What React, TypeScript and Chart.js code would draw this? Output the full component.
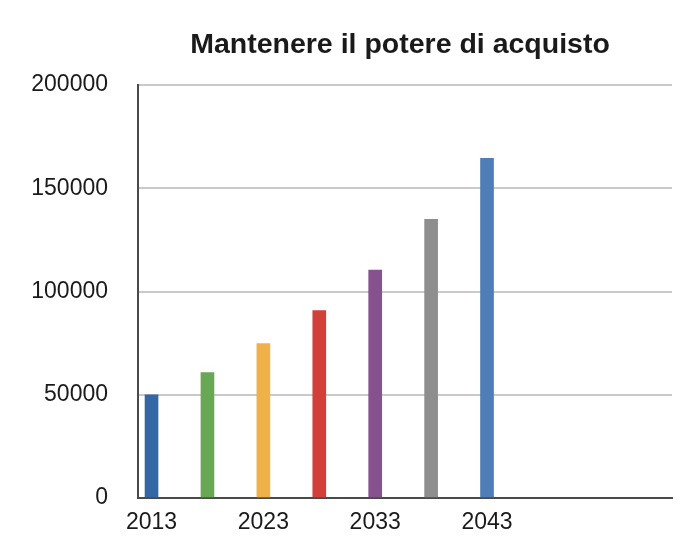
import React, { useEffect, useRef } from "react";
import { Chart, registerables } from "chart.js";

Chart.register(...registerables);

const TITLE = "Mantenere il potere di acquisto";
const YEARS = [2013, 2018, 2023, 2028, 2033, 2038, 2043];
const VALUES = [50000, 60700, 74800, 90700, 110400, 135000, 164500];
const X_TICKS = [2013, 2023, 2033, 2043];
const Y_TICKS = [0, 50000, 100000, 150000, 200000];
const COLORS = ["#3467a5", "#68a854", "#f0b248", "#d2403a", "#87508f", "#8e8e8e", "#4f7db6"];

const titleShift = {
  id: "titleShift",
  afterLayout(chart: any) {
    const t = chart.titleBlock;
    if (t) {
      t.left -= 5;
      t.right -= 5;
    }
  },
};

export default function App() {
  const ref = useRef<HTMLCanvasElement>(null);

  useEffect(() => {
    if (!ref.current) return;
    const font = "'Liberation Sans', Arial, Helvetica, sans-serif";
    const chart = new Chart(ref.current, {
      type: "bar",
      data: {
        datasets: [
          {
            data: YEARS.map((y, i) => ({ x: y, y: VALUES[i] })),
            backgroundColor: COLORS,
            borderWidth: 0,
            barThickness: 13,
          },
        ],
      },
      plugins: [titleShift],
      options: {
        responsive: false,
        animation: false,
        layout: { padding: { left: 0, right: 26, top: 0, bottom: 0 } },
        plugins: {
          legend: { display: false },
          tooltip: { enabled: false },
          title: {
            display: true,
            text: TITLE,
            fullSize: false,
            color: "#1a1a1a",
            font: { family: font, size: 28.5, weight: "bold", lineHeight: 1.2 },
            padding: { top: 28, bottom: 22.8 },
          },
        },
        scales: {
          x: {
            type: "linear",
            min: 2011.79,
            max: 2059.54,
            offset: false,
            afterBuildTicks: (scale: any) => {
              scale.ticks = X_TICKS.map((v) => ({ value: v }));
            },
            afterFit: (scale: any) => {
              scale.height = 55;
            },
            grid: { display: false, drawTicks: false },
            border: { display: true, color: "#4a4a4a", width: 2 },
            ticks: {
              color: "#1a1a1a",
              font: { family: font, size: 23 },
              padding: 11,
              maxRotation: 0,
              autoSkip: false,
              callback: (v: any) => String(v),
            },
          },
          y: {
            min: 0,
            max: 200000,
            afterBuildTicks: (scale: any) => {
              scale.ticks = Y_TICKS.map((v) => ({ value: v }));
            },
            afterFit: (scale: any) => {
              scale.width = 138;
            },
            grid: { color: "#c9c9c9", lineWidth: 2, drawTicks: false },
            border: { display: true, color: "#4a4a4a", width: 2 },
            ticks: {
              color: "#1a1a1a",
              font: { family: font, size: 23 },
              padding: 30,
              callback: (v: any) => String(v),
            },
          },
        },
      },
    } as any);
    return () => chart.destroy();
  }, []);

  return (
    <div style={{ position: "absolute", left: 0, top: 0, width: 698, height: 553, background: "#fff" }}>
      <canvas ref={ref} width={698} height={553} style={{ display: "block" }} />
    </div>
  );
}
